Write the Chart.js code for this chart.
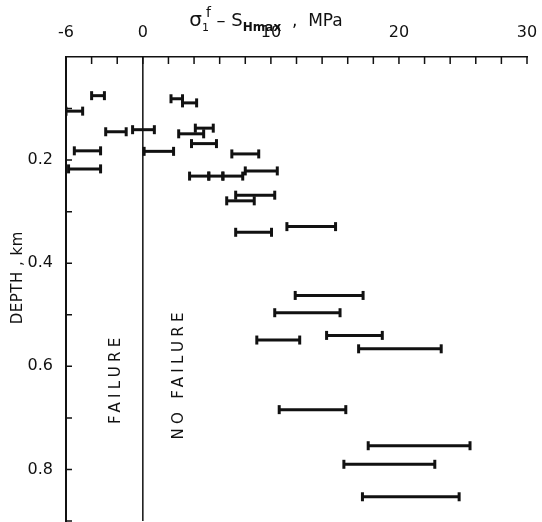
<!DOCTYPE html>
<html>
<head>
<meta charset="utf-8">
<script src="https://cdn.jsdelivr.net/npm/chart.js@4.4.1/dist/chart.umd.min.js"></script>
<style>
  html, body { margin: 0; padding: 0; background: #fff; }
</style>
</head>
<body>
<canvas id="myChart" width="542" height="522"></canvas>
<script>
// Depth of each test interval (km) and the range of sigma1f - SHmax (MPa)
const depthKm =    [0.075, 0.081, 0.089, 0.105, 0.138, 0.141, 0.145, 0.149, 0.168, 0.182,
                    0.183, 0.188, 0.217, 0.221, 0.231, 0.231, 0.231, 0.268, 0.279, 0.329,
                    0.340, 0.4625, 0.496, 0.540, 0.549, 0.566, 0.684, 0.754, 0.790, 0.853];
const stressLow =  [-4.0, 2.2, 3.1, -6.0, 4.1, -0.8, -2.9, 2.8, 3.8, -5.35,
                    0.1, 6.95, -5.8, 8.0, 3.65, 5.15, 6.25, 7.25, 6.55, 11.25,
                    7.25, 11.9, 10.3, 14.35, 8.9, 16.85, 10.65, 17.6, 15.7, 17.15];
const stressHigh = [-3.0, 3.1, 4.2, -4.7, 5.5, 0.9, -1.3, 4.75, 5.75, -3.3,
                    2.4, 9.05, -3.3, 10.5, 5.15, 6.25, 7.8, 10.3, 8.7, 15.05,
                    10.05, 17.2, 15.4, 18.7, 12.25, 23.3, 15.85, 25.55, 22.8, 24.7];

const xTickLabels = [-6, 0, 10, 20, 30];
const yTickLabels = [0.2, 0.4, 0.6, 0.8];

const ink = '#111';
const fontFamily = '"DejaVu Sans", "Liberation Sans", sans-serif';

// one little dataset per interval, with vertical end caps
const intervalSets = depthKm.map((d, i) => ({
    data: [{ x: stressLow[i], y: d }, { x: stressHigh[i], y: d }],
    showLine: true,
    borderColor: ink,
    borderWidth: 3,
    pointStyle: 'line',
    rotation: 90,
    pointRadius: 4.5,
    pointBorderColor: ink,
    pointBorderWidth: 3
}));

// the failure / no failure boundary at zero
const zeroLine = {
    data: [{ x: 0, y: 0 }, { x: 0, y: 0.9 }],
    showLine: true,
    borderColor: ink,
    borderWidth: 1.5,
    pointRadius: 0
};

function drawTopTitle(ctx, cx, baseY) {
    const parts = [
        { text: 'σ', size: 20, dy: 0 },
        { text: '1', size: 11, dy: 5, advance: 4 },
        { text: 'f', size: 14, dy: -9 },
        { text: ' – S', size: 18, dy: 0 },
        { text: 'Hmax', size: 12, dy: 5, weight: 'bold ' },
        { text: '  ,  MPa', size: 17, dy: 0 }
    ];
    let total = 0;
    parts.forEach(p => {
        ctx.font = (p.weight || '') + p.size + 'px ' + fontFamily;
        p.w = p.advance !== undefined ? p.advance : ctx.measureText(p.text).width;
        total += p.w;
    });
    let x = cx - total / 2;
    ctx.textAlign = 'left';
    ctx.textBaseline = 'alphabetic';
    parts.forEach(p => {
        ctx.font = (p.weight || '') + p.size + 'px ' + fontFamily;
        ctx.fillText(p.text, x, baseY + p.dy);
        x += p.w;
    });
}

function drawRotated(ctx, text, x, y, size, spacing) {
    ctx.save();
    ctx.translate(x, y);
    ctx.rotate(-Math.PI / 2);
    ctx.font = size + 'px ' + fontFamily;
    ctx.letterSpacing = spacing + 'px';
    ctx.textAlign = 'center';
    ctx.textBaseline = 'middle';
    ctx.fillText(text, spacing / 2, 0);
    ctx.restore();
}

// inward tick marks, titles and region labels
const axisDecor = {
    id: 'axisDecor',
    afterDraw(chart) {
        const ctx = chart.ctx;
        const area = chart.chartArea;
        const xs = chart.scales.x;
        const ys = chart.scales.y;
        ctx.save();
        ctx.strokeStyle = ink;
        ctx.lineWidth = 1.5;
        ctx.beginPath();
        for (let v = xs.min; v <= xs.max + 1e-9; v += 2) {
            const px = xs.getPixelForValue(v);
            ctx.moveTo(px, area.top);
            ctx.lineTo(px, area.top + 7);
        }
        for (let k = 1; k <= 9; k++) {
            const py = ys.getPixelForValue(k / 10);
            ctx.moveTo(area.left, py);
            ctx.lineTo(area.left + 6, py);
        }
        ctx.stroke();

        ctx.fillStyle = ink;
        drawTopTitle(ctx, 266, 26);
        drawRotated(ctx, 'DEPTH , km', 18, 278, 15, 0.5);
        drawRotated(ctx, 'FAILURE', 116, 381, 15, 4.3);
        drawRotated(ctx, 'NO FAILURE', 179, 376, 15, 4.3);
        ctx.restore();
    }
};

const ctx = document.getElementById('myChart').getContext('2d');
const myChart = new Chart(ctx, {
    type: 'scatter',
    data: { datasets: [zeroLine, ...intervalSets] },
    options: {
        responsive: false,
        animation: false,
        events: [],
        layout: { autoPadding: false, padding: { left: 0, right: 15, top: 0, bottom: 1 } },
        plugins: {
            legend: { display: false },
            tooltip: { enabled: false }
        },
        scales: {
            x: {
                type: 'linear',
                position: 'top',
                min: -6,
                max: 30,
                grid: { display: false },
                border: { display: true, color: ink, width: 1.5 },
                ticks: {
                    stepSize: 2,
                    autoSkip: false,
                    maxRotation: 0,
                    padding: 7,
                    color: ink,
                    font: { family: fontFamily, size: 16 },
                    callback: v => xTickLabels.includes(v) ? String(v) : null
                },
                afterFit: s => { s.height = 57; s.paddingLeft = 0; s.paddingRight = 0; }
            },
            y: {
                type: 'linear',
                reverse: true,
                min: 0,
                max: 0.9,
                grid: { display: false },
                border: { display: true, color: ink, width: 2 },
                ticks: {
                    stepSize: 0.1,
                    autoSkip: false,
                    padding: 5,
                    color: ink,
                    font: { family: fontFamily, size: 16 },
                    callback: v => {
                        const hit = yTickLabels.find(t => Math.abs(t - v) < 1e-6);
                        return hit !== undefined ? hit.toFixed(1) : null;
                    }
                },
                afterFit: s => { s.width = 66; s.paddingTop = 0; s.paddingBottom = 0; }
            }
        }
    },
    plugins: [axisDecor]
});
</script>
</body>
</html>
